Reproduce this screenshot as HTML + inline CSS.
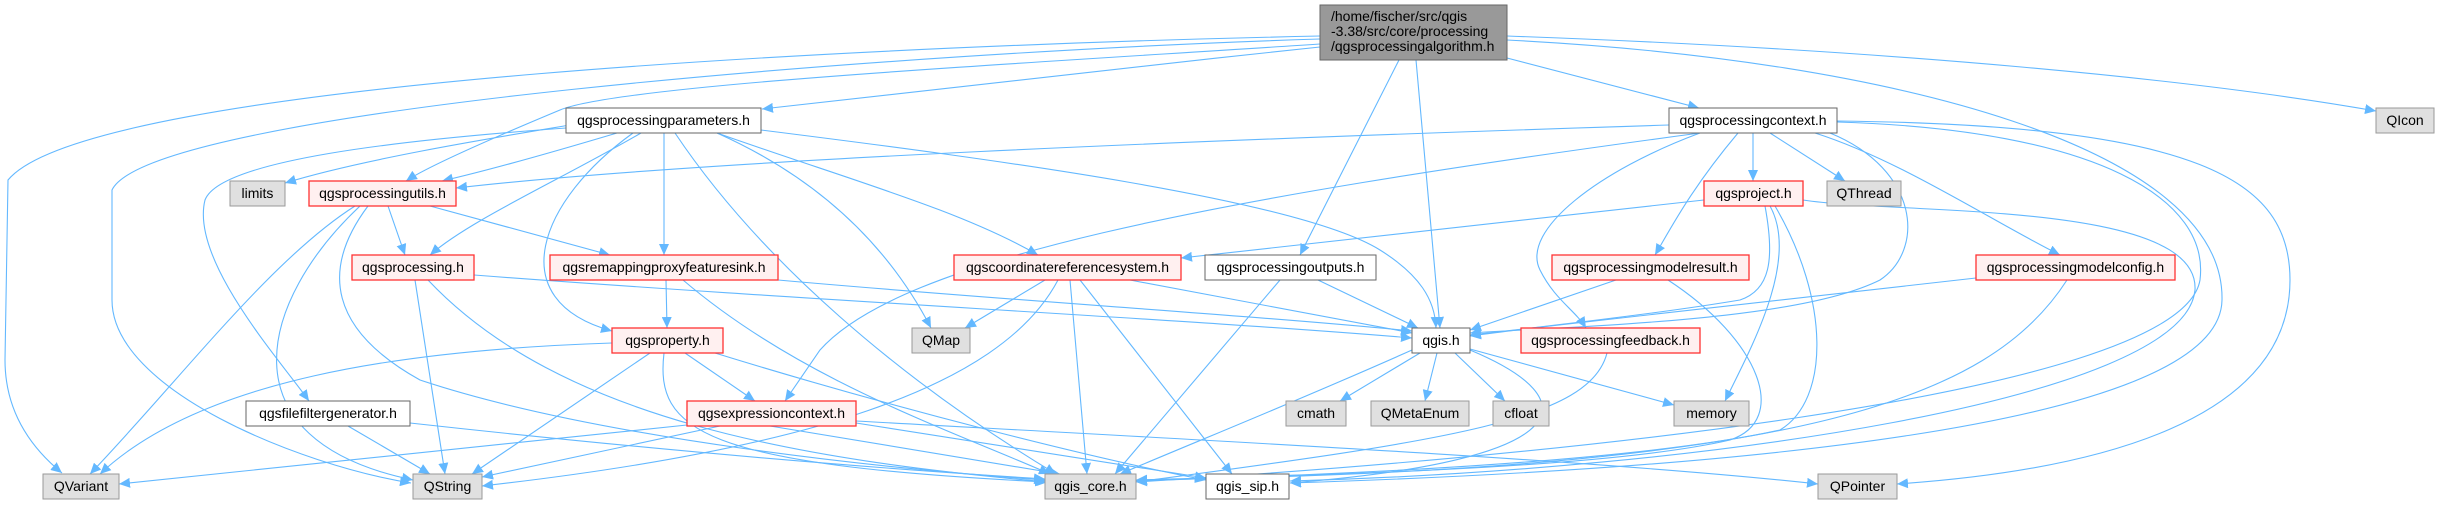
<!DOCTYPE html>
<html><head><meta charset="utf-8"><style>
html,body{margin:0;padding:0;background:#fff;}
svg{display:block;}
text{font-family:"Liberation Sans","DejaVu Sans",sans-serif;font-size:14px;fill:#000;}
.e{fill:none;stroke:#63b8ff;stroke-width:1.1;marker-end:url(#a);}
.w{fill:#fff;stroke:#666;stroke-width:1;}
.r{fill:#fff0f0;stroke:#ff3333;stroke-width:1.3;}
.g{fill:#e0e0e0;stroke:#999;stroke-width:1;}
.t{fill:#999;stroke:#666;stroke-width:1;}
</style></head><body>
<svg width="2439" height="505" viewBox="0 0 2439 505" xmlns="http://www.w3.org/2000/svg">
<defs><marker id="a" markerUnits="userSpaceOnUse" markerWidth="12" markerHeight="10" refX="11" refY="5" orient="auto"><path d="M0,0 L11,5 L0,10 z" fill="#63b8ff"/></marker></defs>
<!-- edges from top -->
<path class="e" d="M1320,36 C900,45 90,80 8,180 L5,360 C5,420 40,455 62,473"/>
<path class="e" d="M1320,39 C900,52 150,110 112,190 L112,300 C112,390 300,465 411,483"/>
<path class="e" d="M1320,44 C1000,65 620,85 560,110 C500,135 430,165 406,181"/>
<path class="e" d="M1320,47 C1100,70 850,100 762,109"/>
<path class="e" d="M1507,58 L1699,108"/>
<path class="e" d="M1507,36 C1900,50 2200,80 2376,111"/>
<path class="e" d="M1399,60 L1300,255"/>
<path class="e" d="M1416,60 L1440,328"/>
<path class="e" d="M1507,40 C1900,60 2225,150 2222,300 C2220,430 1700,470 1290,483"/>
<!-- params -->
<path class="e" d="M570,125 C480,140 360,160 285,183"/>
<path class="e" d="M617,133 C560,150 490,170 442,181"/>
<path class="e" d="M566,128 C400,140 220,160 205,200 C190,260 280,360 309,401"/>
<path class="e" d="M641,133 C560,180 470,220 430,255"/>
<path class="e" d="M633,133 C540,200 500,300 612,331"/>
<path class="e" d="M664,133 L664,255"/>
<path class="e" d="M675,133 C760,260 900,380 1056,474"/>
<path class="e" d="M717,133 C800,170 880,230 931,328"/>
<path class="e" d="M717,133 C850,180 960,210 1038,255"/>
<path class="e" d="M761,130 C1000,160 1300,200 1380,250 C1420,275 1435,300 1436,328"/>
<!-- utils -->
<path class="e" d="M388,206 L405,255"/>
<path class="e" d="M430,206 L610,255"/>
<path class="e" d="M355,206 C270,260 180,380 90,474"/>
<path class="e" d="M368,206 C320,270 330,330 420,380 C600,440 900,470 1045,480"/>
<path class="e" d="M360,206 C260,300 220,440 413,480"/>
<!-- processing.h -->
<path class="e" d="M415,280 L445,474"/>
<path class="e" d="M428,280 C560,420 800,460 1048,482"/>
<path class="e" d="M474,275 C800,300 1200,320 1412,338"/>
<!-- remapping -->
<path class="e" d="M666,280 L667,328"/>
<path class="e" d="M778,280 C1000,300 1250,315 1412,331"/>
<path class="e" d="M683,280 C800,380 950,430 1050,474"/>
<!-- property -->
<path class="e" d="M612,343 C400,350 200,380 100,474"/>
<path class="e" d="M650,353 L472,474"/>
<path class="e" d="M685,353 L755,401"/>
<path class="e" d="M664,353 C655,430 700,465 1046,482"/>
<path class="e" d="M715,353 C900,410 1100,460 1206,480"/>
<!-- filefilter -->
<path class="e" d="M348,426 L430,474"/>
<path class="e" d="M410,423 C700,455 900,470 1045,479"/>
<!-- exprctx -->
<path class="e" d="M687,425 L119,484"/>
<path class="e" d="M720,426 L482,477"/>
<path class="e" d="M770,426 L1060,474"/>
<path class="e" d="M856,423 L1206,478"/>
<path class="e" d="M856,421 C1200,440 1600,460 1818,484"/>
<!-- CRS -->
<path class="e" d="M1045,280 L965,328"/>
<path class="e" d="M1058,280 C1000,390 800,450 482,486"/>
<path class="e" d="M1070,280 L1087,474"/>
<path class="e" d="M1080,280 L1232,474"/>
<path class="e" d="M1130,280 L1412,333"/>
<!-- outputs -->
<path class="e" d="M1318,280 L1418,328"/>
<path class="e" d="M1280,280 L1115,474"/>
<!-- qgis.h -->
<path class="e" d="M1412,350 C1300,400 1200,440 1120,474"/>
<path class="e" d="M1420,353 L1340,401"/>
<path class="e" d="M1437,353 L1425,401"/>
<path class="e" d="M1455,353 L1505,401"/>
<path class="e" d="M1470,349 L1674,405"/>
<path class="e" d="M1470,350 C1590,400 1580,460 1290,483"/>
<!-- context -->
<path class="e" d="M1669,125 C1200,140 700,160 456,188"/>
<path class="e" d="M1700,133 C1200,200 900,260 820,350 L785,401"/>
<path class="e" d="M1753,133 L1753,181"/>
<path class="e" d="M1770,133 L1845,181"/>
<path class="e" d="M1738,133 C1690,190 1670,230 1655,255"/>
<path class="e" d="M1815,133 C1900,160 1990,220 2060,255"/>
<path class="e" d="M1830,133 C1920,170 1925,250 1880,280 C1800,320 1600,325 1470,333"/>
<path class="e" d="M1700,133 C1600,170 1520,230 1540,270 C1555,300 1575,310 1586,328"/>
<path class="e" d="M1837,122 C2100,130 2210,200 2200,280 C2180,400 1500,460 1136,482"/>
<path class="e" d="M1837,121 C2200,125 2290,180 2290,280 C2290,420 2100,470 1897,484"/>
<!-- project -->
<path class="e" d="M1704,200 L1181,258"/>
<path class="e" d="M1765,206 C1775,260 1770,290 1740,300 C1650,315 1550,325 1470,336"/>
<path class="e" d="M1770,206 C1800,260 1750,350 1725,401"/>
<path class="e" d="M1775,206 C1830,300 1830,400 1780,430 C1600,470 1200,478 1136,481"/>
<path class="e" d="M1803,200 C1900,215 2200,200 2195,290 C2185,400 1700,470 1290,481"/>
<!-- modelresult -->
<path class="e" d="M1616,280 L1470,330"/>
<path class="e" d="M1668,280 C1760,340 1790,420 1730,440 C1600,470 1300,475 1136,480"/>
<!-- modelconfig -->
<path class="e" d="M1976,278 L1470,335"/>
<path class="e" d="M2067,280 C1990,400 1800,470 1136,480"/>
<!-- feedback -->
<path class="e" d="M1607,353 C1590,420 1450,440 1136,482"/>

<!-- nodes -->
<rect class="t" x="1320" y="5" width="187" height="55"/>
<text x="1331" y="21">/home/fischer/src/qgis</text>
<text x="1331" y="36">-3.38/src/core/processing</text>
<text x="1331" y="51">/qgsprocessingalgorithm.h</text>

<rect class="w" x="566" y="108" width="195" height="25"/><text x="663.5" y="125" text-anchor="middle">qgsprocessingparameters.h</text>
<rect class="w" x="1669" y="108" width="168" height="25"/><text x="1753" y="125" text-anchor="middle">qgsprocessingcontext.h</text>
<rect class="g" x="2376" y="108" width="58" height="25"/><text x="2405" y="125" text-anchor="middle">QIcon</text>
<rect class="g" x="230" y="181" width="55" height="25"/><text x="257.5" y="198" text-anchor="middle">limits</text>
<rect class="r" x="309" y="181" width="147" height="25"/><text x="382.5" y="198" text-anchor="middle">qgsprocessingutils.h</text>
<rect class="r" x="1704" y="181" width="99" height="25"/><text x="1753.5" y="198" text-anchor="middle">qgsproject.h</text>
<rect class="g" x="1827" y="181" width="74" height="25"/><text x="1864" y="198" text-anchor="middle">QThread</text>
<rect class="r" x="352" y="255" width="122" height="25"/><text x="413" y="272" text-anchor="middle">qgsprocessing.h</text>
<rect class="r" x="550" y="255" width="228" height="25"/><text x="664" y="272" text-anchor="middle">qgsremappingproxyfeaturesink.h</text>
<rect class="r" x="954" y="255" width="227" height="25"/><text x="1067.5" y="272" text-anchor="middle">qgscoordinatereferencesystem.h</text>
<rect class="w" x="1205" y="255" width="171" height="25"/><text x="1290.5" y="272" text-anchor="middle">qgsprocessingoutputs.h</text>
<rect class="r" x="1552" y="255" width="197" height="25"/><text x="1650.5" y="272" text-anchor="middle">qgsprocessingmodelresult.h</text>
<rect class="r" x="1976" y="255" width="199" height="25"/><text x="2075.5" y="272" text-anchor="middle">qgsprocessingmodelconfig.h</text>
<rect class="r" x="612" y="328" width="111" height="25"/><text x="667.5" y="345" text-anchor="middle">qgsproperty.h</text>
<rect class="g" x="912" y="328" width="58" height="25"/><text x="941" y="345" text-anchor="middle">QMap</text>
<rect class="w" x="1412" y="328" width="58" height="25"/><text x="1441" y="345" text-anchor="middle">qgis.h</text>
<rect class="r" x="1521" y="328" width="179" height="25"/><text x="1610.5" y="345" text-anchor="middle">qgsprocessingfeedback.h</text>
<rect class="w" x="246" y="401" width="164" height="25"/><text x="328" y="418" text-anchor="middle">qgsfilefiltergenerator.h</text>
<rect class="r" x="687" y="401" width="169" height="25"/><text x="771.5" y="418" text-anchor="middle">qgsexpressioncontext.h</text>
<rect class="g" x="1286" y="401" width="60" height="25"/><text x="1316" y="418" text-anchor="middle">cmath</text>
<rect class="g" x="1371" y="401" width="98" height="25"/><text x="1420" y="418" text-anchor="middle">QMetaEnum</text>
<rect class="g" x="1493" y="401" width="56" height="25"/><text x="1521" y="418" text-anchor="middle">cfloat</text>
<rect class="g" x="1674" y="401" width="75" height="25"/><text x="1711.5" y="418" text-anchor="middle">memory</text>
<rect class="g" x="43" y="474" width="76" height="25"/><text x="81" y="491" text-anchor="middle">QVariant</text>
<rect class="g" x="413" y="474" width="69" height="25"/><text x="447.5" y="491" text-anchor="middle">QString</text>
<rect class="g" x="1045" y="474" width="91" height="25"/><text x="1090.5" y="491" text-anchor="middle">qgis_core.h</text>
<rect class="w" x="1206" y="474" width="83" height="25"/><text x="1247.5" y="491" text-anchor="middle">qgis_sip.h</text>
<rect class="g" x="1818" y="474" width="79" height="25"/><text x="1857.5" y="491" text-anchor="middle">QPointer</text>
</svg>
</body></html>
